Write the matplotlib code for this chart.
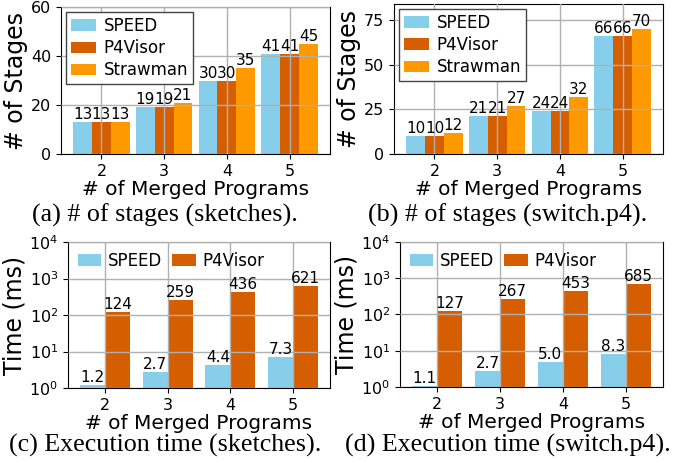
import numpy as np
import matplotlib
matplotlib.use('Agg')
import matplotlib.pyplot as plt
from matplotlib.ticker import LogLocator

# data
programs = [2, 3, 4, 5]
stages_sk_speed = [13, 19, 30, 41]
stages_sk_p4visor = [13, 19, 30, 41]
stages_sk_strawman = [13, 21, 35, 45]
stages_sw_speed = [10, 21, 24, 66]
stages_sw_p4visor = [10, 21, 24, 66]
stages_sw_strawman = [12, 27, 32, 70]
time_sk_speed = [1.2, 2.7, 4.4, 7.3]
time_sk_p4visor = [124, 259, 436, 621]
time_sw_speed = [1.1, 2.7, 5.0, 8.3]
time_sw_p4visor = [127, 267, 453, 685]
captions = ["(a) # of stages (sketches).", "(b) # of stages (switch.p4).",
            "(c) Execution time (sketches).", "(d) Execution time (switch.p4)."]

c_speed = '#87CEEB'
c_p4v = '#D55E00'
c_straw = '#FF9900'

fig = plt.figure(figsize=(6.83, 4.62), dpi=100)
ax_a = fig.add_axes([0.0893, 0.6667, 0.394, 0.318])
ax_b = fig.add_axes([0.5769, 0.6667, 0.394, 0.3247])
ax_c = fig.add_axes([0.0996, 0.160, 0.3836, 0.316])
ax_d = fig.add_axes([0.5857, 0.1623, 0.385, 0.314])

x = np.array(programs)


def style(ax, ylabel):
    ax.set_axisbelow(False)
    ax.grid(True, color='#b0b0b0', linewidth=1.0)
    ax.set_xticks(programs)
    ax.tick_params(labelsize=11.5)
    ax.set_xlabel('# of Merged Programs', fontsize=14.5, labelpad=1)
    ax.set_ylabel(ylabel, fontsize=17, labelpad=2)


def stage_plot(ax, s1, s2, s3, ymax, yticks):
    w = 0.3
    b1 = ax.bar(x - w, s1, w, color=c_speed, label='SPEED')
    b2 = ax.bar(x, s2, w, color=c_p4v, label='P4Visor')
    b3 = ax.bar(x + w, s3, w, color=c_straw, label='Strawman')
    for b in (b1, b2, b3):
        ax.bar_label(b, fontsize=11, padding=0)
    ax.set_ylim(0, ymax)
    ax.set_yticks(yticks)
    style(ax, '# of Stages')
    ax.legend(loc='upper left', fontsize=12, fancybox=False, edgecolor='#444444',
              handlelength=1.5, handletextpad=0.45, labelspacing=0.25,
              borderpad=0.3, borderaxespad=0.3, framealpha=1)


def time_plot(ax, s1, s2):
    w = 0.4
    b1 = ax.bar(x - w / 2, s1, w, color=c_speed, label='SPEED')
    b2 = ax.bar(x + w / 2, s2, w, color=c_p4v, label='P4Visor')
    ax.set_yscale('log')
    ax.set_ylim(1, 1e4)
    ax.yaxis.set_major_locator(LogLocator(base=10, numticks=10))
    ax.bar_label(b1, labels=['%.1f' % v for v in s1], fontsize=11, padding=0)
    ax.bar_label(b2, labels=['%d' % v for v in s2], fontsize=11, padding=0)
    ax.minorticks_off()
    style(ax, 'Time (ms)')
    ax.legend(loc='upper left', ncol=2, fontsize=12, frameon=False,
              handlelength=1.4, handletextpad=0.4, columnspacing=0.6,
              borderpad=0.3, borderaxespad=0.3)


stage_plot(ax_a, stages_sk_speed, stages_sk_p4visor, stages_sk_strawman, 60, [0, 20, 40, 60])
stage_plot(ax_b, stages_sw_speed, stages_sw_p4visor, stages_sw_strawman, 84, [0, 25, 50, 75])
time_plot(ax_c, time_sk_speed, time_sk_p4visor)
time_plot(ax_d, time_sw_speed, time_sw_p4visor)

cap_font = dict(fontsize=18.7, family='Liberation Serif', ha='center', va='center')
fig.text(165 / 683, 1 - 215 / 462, captions[0], **cap_font)
fig.text(508 / 683, 1 - 215 / 462, captions[1], **cap_font)
fig.text(165 / 683, 1 - 445 / 462, captions[2], **cap_font)
fig.text(508 / 683, 1 - 445 / 462, captions[3], **cap_font)

fig.savefig('out.png', dpi=100)
